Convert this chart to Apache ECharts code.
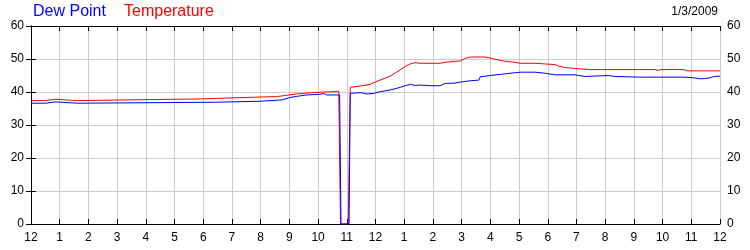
<!DOCTYPE html>
<html>
<head>
<meta charset="utf-8">
<script src="https://cdn.jsdelivr.net/npm/echarts@6/dist/echarts.min.js"></script>
<style>
html,body{margin:0;padding:0;background:#fff;}
#chart{width:750px;height:250px;}
</style>
</head>
<body>
<div id="chart"></div>
<script>
// Hours since midnight (0..24) and readings
var tempHours = [0,0.5,0.52,0.84,0.86,1.62,1.64,5.9,5.92,7.25,7.27,8.55,8.6,8.9,8.92,9.25,9.27,9.78,9.8,10.72,10.78,11.05,11.12,11.46,11.81,12.16,12.51,12.86,13.03,13.21,13.38,13.55,14.25,14.43,14.77,14.95,15.12,15.3,15.82,15.99,16.17,16.34,16.52,16.86,17.04,17.56,17.91,18.26,18.36,18.61,19.13,19.48,21.74,21.85,21.95,22.72,22.86,24];
var temperature = [37.4,37.4,37.8,37.8,37.4,37.4,37.9,37.9,38.3,38.3,38.6,38.6,39.0,39.0,39.4,39.4,39.8,39.8,40.2,40.2,0,0,41.4,41.8,42.3,43.6,44.8,46.7,47.7,48.5,48.9,48.7,48.7,49.0,49.3,49.4,50.2,50.6,50.6,50.3,49.9,49.6,49.3,49.0,48.7,48.7,48.5,48.3,47.9,47.4,47.0,46.8,46.8,46.5,46.8,46.8,46.4,46.4];
var dewHours = [0,0.52,0.54,0.84,0.86,1.62,1.64,6.4,6.42,7.98,8.0,8.75,8.8,9.0,9.27,9.6,10.05,10.2,10.3,10.75,10.8,11.08,11.12,11.5,11.7,11.95,12.16,12.51,12.86,13.03,13.21,13.38,13.55,13.9,14.25,14.43,14.77,14.95,15.3,15.6,15.65,16.0,16.5,17.04,17.56,17.9,18.26,18.95,19.3,19.8,20.1,20.35,21.2,22.7,23.0,23.3,23.5,23.6,23.8,24];
var dewPoint = [36.6,36.6,37.0,37.0,36.6,36.6,36.9,36.9,37.2,37.2,37.6,37.6,38.0,38.3,38.7,39.1,39.3,39.5,39.1,39.1,0,0,39.6,39.8,39.4,39.6,40.1,40.6,41.4,41.9,42.3,42.0,42.1,41.9,41.9,42.6,42.7,43.0,43.4,43.6,44.6,45.0,45.5,46.0,46.0,45.7,45.2,45.2,44.7,44.9,45.0,44.7,44.5,44.5,44.4,44.0,44.1,44.2,44.7,44.8];
var hourLabels = ['12','1','2','3','4','5','6','7','8','9','10','11','12','1','2','3','4','5','6','7','8','9','10','11','12'];
var yTicks = [0,10,20,30,40,50,60];
var legendNames = ['Dew Point','Temperature'];
var dateLabel = '1/3/2009';

function zip(xs, ys){ return xs.map(function(x,i){ return [x, ys[i]]; }); }

var chart = echarts.init(document.getElementById('chart'), null, {renderer:'canvas'});
var font = 'Liberation Sans, Arial, sans-serif';
var yAxisCommon = {
  type:'value', min:yTicks[0], max:yTicks[yTicks.length-1], interval:10,
  axisLine:{show:true, lineStyle:{color:'#000', width:1}},
  axisTick:{show:true, inside:true, length:5, lineStyle:{color:'#000'}},
  axisLabel:{color:'#000', fontFamily:font, fontSize:12, margin:7},
  splitLine:{show:false}
};
chart.setOption({
  animation:false,
  backgroundColor:'#fff',
  grid:{left:31, right:30, top:26, bottom:26, containLabel:false},
  graphic:[
    {type:'text', left:33, top:4, style:{text:legendNames[0], fill:'#0000ff', font:'16px ' + font}},
    {type:'text', left:124, top:4, style:{text:legendNames[1], fill:'#ff0000', font:'16px ' + font}},
    {type:'text', right:32, top:6, style:{text:dateLabel, fill:'#000', font:'12px ' + font}}
  ],
  xAxis:[
    {type:'value', min:0, max:24, interval:1, position:'bottom',
     axisLine:{show:true, onZero:false, lineStyle:{color:'#000', width:1}},
     axisTick:{show:true, inside:true, length:5, lineStyle:{color:'#000'}},
     axisLabel:{color:'#000', fontFamily:font, fontSize:12, margin:8,
       formatter:function(v){ return hourLabels[Math.round(v)]; }},
     splitLine:{show:true, lineStyle:{color:'#cccccc', width:1}}
    },
    {type:'value', min:0, max:24, interval:1, position:'top',
     axisLine:{show:true, onZero:false, lineStyle:{color:'#000', width:1}},
     axisTick:{show:true, inside:true, length:5, lineStyle:{color:'#000'}},
     axisLabel:{show:false}, splitLine:{show:false}
    }
  ],
  yAxis:[
    Object.assign({}, yAxisCommon, {position:'left', splitLine:{show:true, lineStyle:{color:'#cccccc', width:1}}}),
    Object.assign({}, yAxisCommon, {position:'right'})
  ],
  series:[
    {name:legendNames[1], type:'line', data:zip(tempHours, temperature), showSymbol:false, symbol:'none',
     lineStyle:{color:'#ff0000', width:1}, itemStyle:{color:'#ff0000'}, z:2},
    {name:legendNames[0], type:'line', data:zip(dewHours, dewPoint), showSymbol:false, symbol:'none',
     lineStyle:{color:'#0000ff', width:1}, itemStyle:{color:'#0000ff'}, z:3}
  ]
});
</script>
</body>
</html>
